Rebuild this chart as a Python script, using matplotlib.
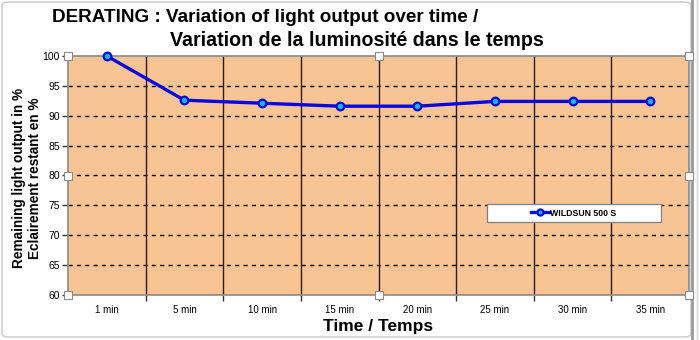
import matplotlib
matplotlib.use("Agg")
import matplotlib.pyplot as plt
from matplotlib.patches import Rectangle, FancyBboxPatch
from matplotlib.lines import Line2D

plt.rcParams['font.family'] = ['Liberation Sans', 'DejaVu Sans']

categories = ["1 min", "5 min", "10 min", "15 min", "20 min", "25 min", "30 min", "35 min"]
light_output = [100, 92.6, 92.1, 91.6, 91.6, 92.4, 92.4, 92.4]
y_ticks = [60, 65, 70, 75, 80, 85, 90, 95, 100]
series_name = "WILDSUN 500 S"

W, H = 700, 340
fig = plt.figure(figsize=(7, 3.4), dpi=100)
fig.patch.set_facecolor("white")

def px(x, y):
    return x / W, 1 - y / H

# chart frame (behind the axes)
frame = FancyBboxPatch(px(2, 337), 689 / W, 335 / H, boxstyle="round,pad=0,rounding_size=0.01",
                       transform=fig.transFigure, facecolor="white", edgecolor="#c8c8c8", lw=1.0,
                       zorder=-5)
fig.patches.append(frame)
fig.add_artist(Line2D([692 / W, 692 / W], [0, 1], color="#9a9a9a", lw=2.0,
                      transform=fig.transFigure, zorder=-4))
fig.add_artist(Line2D([697 / W, 697 / W], [0, 1], color="#d8d8d8", lw=1.0,
                      transform=fig.transFigure, zorder=-4))

left, right, top, bottom = 68, 689, 56, 295
ax = fig.add_axes([left / W, 1 - bottom / H, (right - left) / W, (bottom - top) / H])
ax.set_facecolor("#F9C494")

x = list(range(len(categories)))
ax.set_xlim(-0.5, len(categories) - 0.5)
ax.set_ylim(60, 100)

# dashed horizontal grid
for yv in y_ticks[1:-1]:
    ax.axhline(yv, color="black", lw=1.0, ls=(0, (3, 3)), zorder=1)
# vertical category separators
for b in range(1, len(categories)):
    ax.axvline(b - 0.5, color="#2a1a10", lw=1.0, zorder=1)

ax.plot(x, light_output, color="#0606e0", lw=2.4, marker="o", ms=5.5,
        markerfacecolor="#10B8F0", markeredgecolor="#0606e0", markeredgewidth=1.6,
        label=series_name, zorder=3, clip_on=False)

ax.set_yticks(y_ticks)
ax.set_yticklabels([str(v) for v in y_ticks], fontsize=7.5)
ax.set_xticks([b - 0.5 for b in range(1, len(categories))], minor=False)
ax.set_xticklabels([])
ax.set_xticks(x, minor=True)
ax.set_xticklabels(categories, minor=True, fontsize=7)
ax.tick_params(axis="x", which="major", length=4, width=1, color="#333333")
ax.tick_params(axis="x", which="minor", length=0, pad=7)
ax.tick_params(axis="y", length=4, width=1, color="#333333", pad=2)

for s in ax.spines.values():
    s.set_color("#8a8a8a")
    s.set_linewidth(1.2)

ax.set_xlabel("Time / Temps", fontsize=12.5, fontweight="bold", labelpad=3)
ax.set_ylabel("Remaining light output in %\nEclairement restant en %", fontsize=9.8,
              fontweight="bold", linespacing=1.25, va="center", ha="center")
ax.yaxis.set_label_coords((27 - left) / (right - left), 0.5 - (178 - (top + bottom) / 2) / (bottom - top))

# legend box spanning a fixed width, entry centred inside
lx0, lx1, ly0, ly1 = 487, 661, 204, 222
ax.add_patch(Rectangle(((lx0 - left) / (right - left), 1 - (ly1 - top) / (bottom - top)),
                       (lx1 - lx0) / (right - left), (ly1 - ly0) / (bottom - top),
                       transform=ax.transAxes, facecolor="white", edgecolor="#808080",
                       lw=0.9, zorder=4))
leg = ax.legend(loc="center",
                bbox_to_anchor=(((lx0 + lx1) / 2 - left) / (right - left),
                                1 - ((ly0 + ly1) / 2 - top) / (bottom - top)),
                fontsize=6.3, frameon=False, borderpad=0.2, handlelength=2.0,
                handletextpad=0.2, markerscale=0.8)
leg.set_zorder(5)
for t in leg.get_texts():
    t.set_fontweight("bold")

fig.text(52 / W, 1 - 18 / H, "DERATING : Variation of light output over time /",
         fontsize=13.6, fontweight="bold", ha="left", va="center")
fig.text(170 / W, 1 - 40 / H, "Variation de la luminosité dans le temps",
         fontsize=14.1, fontweight="bold", ha="left", va="center")

# selection handles around the plot area
mid_x = (left + right) / 2
mid_y = (top + bottom) / 2
for hx, hy in [(left, top), (mid_x, top), (right, top), (left, mid_y), (right, mid_y),
               (left, bottom), (mid_x, bottom), (right, bottom)]:
    fx, fy = px(hx - 4, hy + 4)
    fig.patches.append(Rectangle((fx, fy), 8 / W, 8 / H, transform=fig.transFigure,
                                 facecolor="white", edgecolor="#8a8a8a", lw=0.8, zorder=10))

fig.savefig("out.png", dpi=100)
